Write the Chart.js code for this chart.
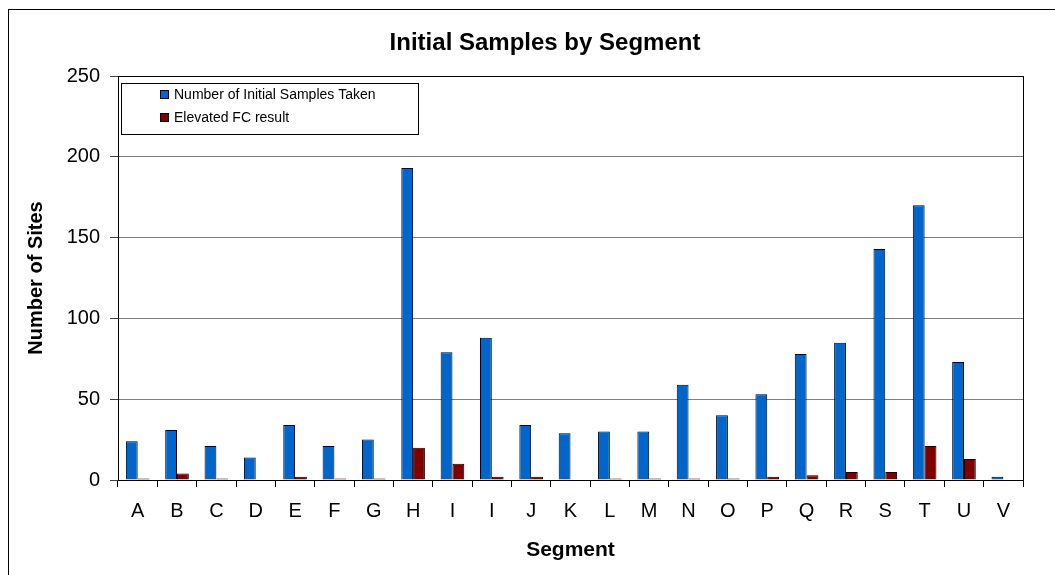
<!DOCTYPE html>
<html>
<head>
<meta charset="utf-8">
<script src="https://cdn.jsdelivr.net/npm/chart.js@4"></script>
<style>
  body { margin: 0; background: #ffffff; }
  #chart { display: block; }
</style>
</head>
<body>
<canvas id="chart" width="1055" height="575"></canvas>
<script>
var segments = ["A", "B", "C", "D", "E", "F", "G", "H", "I", "I", "J", "K", "L", "M", "N", "O", "P", "Q", "R", "S", "T", "U", "V"];
var samplesTaken = [24, 31, 21, 14, 34, 21, 25, 193, 79, 88, 34, 29, 30, 30, 59, 40, 53, 78, 85, 143, 170, 73, 2];
var elevatedFC = [1, 4, 1, 0, 2, 1, 1, 20, 10, 2, 2, 0, 1, 1, 1, 1, 2, 3, 5, 5, 21, 13, 0];
var yTicks = [0, 50, 100, 150, 200, 250];

var titleText = "Initial Samples by Segment";

// outer frame, title, plot border and the legend box are drawn here
var decorations = {
    id: "decorations",
    beforeDraw: function (chart) {
        var ctx = chart.ctx;
        ctx.save();
        ctx.fillStyle = "#ffffff";
        ctx.fillRect(0, 0, chart.width, chart.height);
        ctx.strokeStyle = "#000000";
        ctx.lineWidth = 1;
        ctx.strokeRect(8.5, 9.5, chart.width + 20, chart.height + 20);
        ctx.restore();
    },
    afterDraw: function (chart) {
        var ctx = chart.ctx;
        var area = chart.chartArea;
        ctx.save();
        ctx.strokeStyle = "#000000";
        ctx.lineWidth = 1;
        ctx.strokeRect(Math.round(area.left) + 0.5, Math.round(area.top) + 0.5,
            Math.round(area.right - area.left), Math.round(area.bottom - area.top));

        ctx.fillStyle = "#000000";
        ctx.font = "bold 24px Arial, 'Liberation Sans'";
        ctx.textAlign = "center";
        ctx.textBaseline = "middle";
        ctx.fillText(titleText, 545, 43);

        // legend
        ctx.fillStyle = "#ffffff";
        ctx.fillRect(121.5, 83.5, 297, 51);
        ctx.strokeRect(121.5, 83.5, 297, 51);
        ctx.font = "14px Arial, 'Liberation Sans'";
        ctx.textAlign = "left";
        var sets = chart.data.datasets;
        for (var i = 0; i < sets.length; i++) {
            var y = 95 + i * 23;
            ctx.fillStyle = sets[i].backgroundColor;
            ctx.fillRect(160.5, y - 4.5, 8, 8);
            ctx.strokeRect(160.5, y - 4.5, 8, 8);
            ctx.fillStyle = "#000000";
            ctx.fillText(sets[i].label, 174, y);
        }
        ctx.restore();
    }
};

var ctx = document.getElementById("chart").getContext("2d");
var myBarChart = new Chart(ctx, {
    type: "bar",
    data: {
        labels: segments,
        datasets: [{
            label: "Number of Initial Samples Taken",
            data: samplesTaken,
            backgroundColor: "#0066CC",
            borderColor: "#000000",
            borderWidth: 1
        }, {
            label: "Elevated FC result",
            data: elevatedFC,
            backgroundColor: "#800000",
            borderColor: "#000000",
            borderWidth: 1
        }]
    },
    options: {
        responsive: false,
        animation: false,
        layout: { padding: { left: 10, top: 76, right: 32, bottom: 0 } },
        datasets: { bar: { categoryPercentage: 0.6, barPercentage: 1 } },
        plugins: {
            legend: { display: false },
            tooltip: { enabled: false }
        },
        scales: {
            x: {
                grid: { offset: true, drawOnChartArea: false, drawTicks: true, tickLength: 7, tickColor: "#000000" },
                border: { color: "#000000" },
                ticks: { color: "#000000", padding: 12, font: { family: "Arial, 'Liberation Sans'", size: 20 } },
                title: {
                    display: true, text: "Segment", color: "#000000",
                    font: { family: "Arial, 'Liberation Sans'", size: 21, weight: "bold" },
                    padding: { top: 0, bottom: 12 }
                },
                afterFit: function (scale) { scale.height = 95; }
            },
            y: {
                min: 0,
                max: 250,
                afterBuildTicks: function (scale) {
                    scale.ticks = yTicks.map(function (v) { return { value: v }; });
                },
                grid: { color: "#808080", tickLength: 8, tickColor: "#404040" },
                border: { color: "#000000" },
                ticks: { color: "#000000", padding: 10, font: { family: "Arial, 'Liberation Sans'", size: 20 } },
                title: {
                    display: true, text: "Number of Sites", color: "#000000",
                    font: { family: "Arial, 'Liberation Sans'", size: 20, weight: "bold" },
                    padding: { top: 14, bottom: 0 }
                },
                afterFit: function (scale) { scale.width = 108; }
            }
        }
    },
    plugins: [decorations]
});
</script>
</body>
</html>
